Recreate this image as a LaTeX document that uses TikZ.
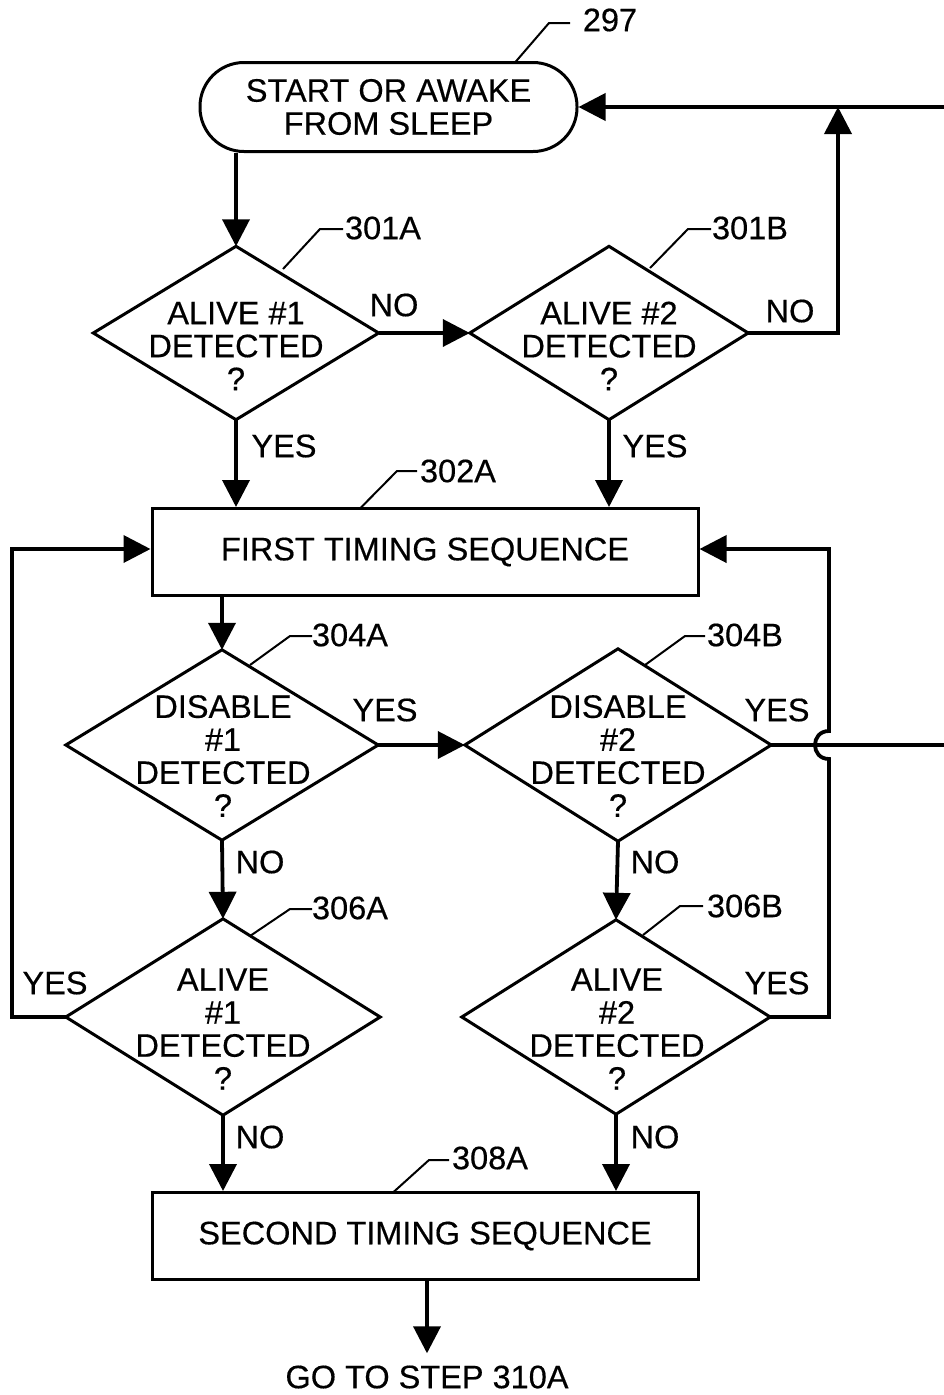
\documentclass[tikz,border=0pt]{standalone}
\usepackage{fontspec}
\setmainfont{Liberation Sans}[FakeBold=0.4]
\usetikzlibrary{arrows.meta,calc}
\begin{document}
\begin{tikzpicture}[x=1pt,y=-1pt,
  every node/.style={font=\fontsize{32.5}{33}\selectfont, inner sep=0pt},
  line/.style={line width=3.8pt},
  shapeline/.style={line width=3pt, line join=miter},
  arr/.style={line width=3.8pt, -{Triangle[length=27pt,width=27pt]}},
  lead/.style={line width=2pt},
  dia/.style 2 args={rectangle, minimum width=#1pt, minimum height=#2pt},
  txt/.style={align=center},
  box/.style={draw, line width=3pt, minimum width=546pt, minimum height=87pt}
]
\useasboundingbox (0,0) rectangle (944,1395);

% terminal
\node[draw, line width=3pt, rounded corners=44pt, minimum width=377pt, minimum height=89pt, align=center] (start) at (388.5,107) {START OR AWAKE\\FROM SLEEP};

% decision geometry
\node[dia={285}{173}] (d301a) at (236,333) {};
\node[dia={278}{173}] (d301b) at (609,333) {};
\node[dia={312}{190}] (d304a) at (222,745) {};
\node[dia={306}{192}] (d304b) at (618,745) {};
\node[dia={314}{196}] (d306a) at (223,1017) {};
\node[dia={308}{194}] (d306b) at (616,1017) {};
\foreach \n in {d301a,d301b,d304a,d304b,d306a,d306b}
  \draw[shapeline] (\n.north) -- (\n.east) -- (\n.south) -- (\n.west) -- cycle;

\node[txt] (t301a) at (236,346) {ALIVE \#1\\DETECTED\\?};
\node[txt] (t301b) at (609,346) {ALIVE \#2\\DETECTED\\?};
\node[txt] (t304a) at (223,756) {DISABLE\\\#1\\DETECTED\\?};
\node[txt] (t304b) at (618,756) {DISABLE\\\#2\\DETECTED\\?};
\node[txt] (t306a) at (223,1029) {ALIVE\\\#1\\DETECTED\\?};
\node[txt] (t306b) at (617,1029) {ALIVE\\\#2\\DETECTED\\?};

% boxes
\node[box] (first) at (425,552) {FIRST TIMING SEQUENCE};
\node[box] (second) at (425,1236) {SECOND TIMING SEQUENCE};
\node (goto) at (427,1377) {GO TO STEP 310A};

% reference numerals
\node (l297) at (610,20) {297};
\node (l301a) at (383,228) {301A};
\node (l301b) at (750,228) {301B};
\node (l302a) at (458,471) {302A};
\node (l304a) at (350,635) {304A};
\node (l304b) at (745,635) {304B};
\node (l306a) at (350,908) {306A};
\node (l306b) at (745,906) {306B};
\node (l308a) at (490,1158) {308A};

\draw[lead] (515,62.5) -- (549,23) -- (570,23);
\draw[lead] (283,269) -- (320,229) -- (343,229);
\draw[lead] (650,268) -- (688,229) -- (711,229);
\draw[lead] (360,508.5) -- (397,471) -- (417,471);
\draw[lead] (250,665) -- (290,636) -- (312,636);
\draw[lead] (645,665) -- (685,636) -- (705,636);
\draw[lead] (250,936) -- (290,909) -- (312,909);
\draw[lead] (643,935) -- (680,906) -- (703,906);
\draw[lead] (393,1192.5) -- (429,1160) -- (449,1160);

% yes / no labels
\node (no1) at (394,305) {NO};
\node (yes1) at (284,446) {YES};
\node (no2) at (790,311) {NO};
\node (yes2) at (655,446) {YES};
\node (yes3) at (385,710) {YES};
\node (yes4) at (777,710) {YES};
\node (no3) at (260,862) {NO};
\node (no4) at (655,862) {NO};
\node (yes5) at (55,983) {YES};
\node (yes6) at (777,983) {YES};
\node (no5) at (260,1137) {NO};
\node (no6) at (655,1137) {NO};

% connectors
\coordinate (topjoin) at (838,107);
\coordinate (rtop) at (944,107);
\coordinate (rmid) at (944,745);
\draw[arr] (start.south -| d301a.north) -- (d301a.north);
\draw[arr] (d301a.east) -- (d301b.west);
\draw[arr] (d301b.east) -| (topjoin);
\draw[arr] (rtop) -- (start.east);
\draw[arr] (d301a.south) -- (d301a.south |- first.north);
\draw[arr] (d301b.south) -- (d301b.south |- first.north);
\draw[arr] (first.south -| d304a.north) -- (d304a.north);
\draw[arr] (d304a.east) -- (d304b.west);
\draw[arr] (d304a.south) -- (d306a.north);
\draw[arr] (d304b.south) -- (d306b.north);
\draw[arr] (d306a.south) -- (d306a.south |- second.north);
\draw[arr] (d306b.south) -- (d306b.south |- second.north);
\draw[arr] (second.south -| goto.north) -- ([yshift=12pt]goto.north);
\draw[line] (d304b.east) -- (rmid);
\draw[arr] (d306a.west) -- ++(-54,0) |- ([yshift=3pt]first.west);
\draw[arr] (d306b.east) -- (829,1017) -- (829,759)
  .. controls (810.3,759) and (810.3,731) .. (829,731)
  |- ([yshift=3pt]first.east);
\end{tikzpicture}
\end{document}
